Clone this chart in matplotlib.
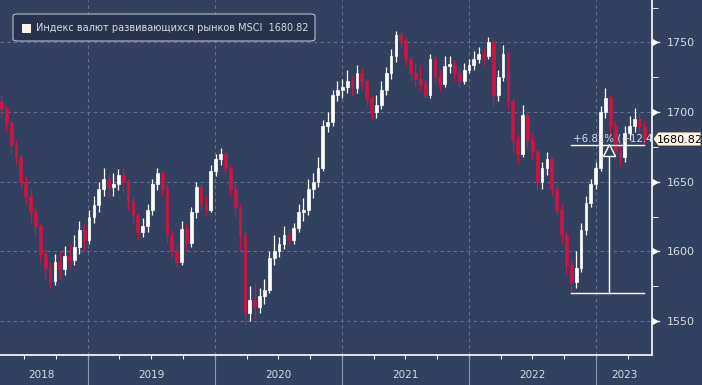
import numpy as np
import pandas as pd
import matplotlib
matplotlib.use("Agg")
import matplotlib.pyplot as plt
import matplotlib.dates as mdates
from matplotlib.patches import FancyBboxPatch, Polygon

# two-week candles
start = "2018-04-27"
closes = [1702, 1692, 1676, 1668, 1650, 1640, 1628, 1618, 1598, 1588,
          1579, 1592, 1587, 1597, 1594, 1603, 1615, 1608, 1625, 1633,
          1645, 1652, 1646, 1648, 1655, 1650, 1636, 1626, 1614, 1618,
          1630, 1648, 1656, 1645, 1612, 1600, 1592, 1616, 1606, 1628,
          1646, 1634, 1630, 1658, 1666, 1670, 1660, 1645, 1632, 1612,
          1556, 1565, 1560, 1568, 1572, 1595, 1600, 1605, 1612, 1608,
          1617, 1628, 1630, 1645, 1650, 1660, 1690, 1693, 1712, 1716,
          1718, 1722, 1717, 1728, 1722, 1710, 1700, 1705, 1716, 1728,
          1740, 1755, 1752, 1738, 1728, 1724, 1720, 1712, 1738, 1725,
          1720, 1733, 1734, 1728, 1722, 1730, 1734, 1738, 1742, 1740,
          1750, 1712, 1725, 1742, 1708, 1680, 1670, 1698, 1680, 1672,
          1650, 1660, 1666, 1645, 1630, 1612, 1590, 1578, 1588, 1615,
          1635, 1648, 1660, 1700, 1710, 1690, 1672, 1668, 1685, 1690,
          1695, 1690, 1680.82]
highs = [1712, 1705, 1694, 1680, 1670, 1654, 1645, 1632, 1620, 1602,
         1592, 1598, 1600, 1604, 1606, 1612, 1622, 1620, 1630, 1640,
         1650, 1660, 1656, 1656, 1659, 1660, 1652, 1640, 1628, 1624,
         1634, 1652, 1660, 1658, 1648, 1615, 1606, 1622, 1620, 1632,
         1650, 1648, 1640, 1662, 1670, 1674, 1672, 1662, 1648, 1634,
         1615, 1575, 1578, 1574, 1580, 1600, 1612, 1610, 1618, 1616,
         1620, 1634, 1638, 1652, 1656, 1668, 1694, 1700, 1716, 1722,
         1724, 1730, 1726, 1734, 1732, 1724, 1712, 1712, 1722, 1732,
         1745, 1758, 1758, 1754, 1740, 1735, 1734, 1724, 1742, 1740,
         1730, 1740, 1740, 1737, 1732, 1735, 1738, 1744, 1747, 1746,
         1754, 1752, 1730, 1748, 1744, 1710, 1684, 1705, 1700, 1686,
         1674, 1664, 1671, 1668, 1648, 1634, 1614, 1595, 1600, 1620,
         1640, 1652, 1664, 1704, 1717, 1712, 1694, 1676, 1690, 1697,
         1703, 1699, 1694]
lows = [1696, 1686, 1670, 1662, 1645, 1634, 1620, 1610, 1592, 1580,
        1574, 1576, 1580, 1583, 1588, 1590, 1598, 1600, 1605, 1620,
        1628, 1640, 1638, 1640, 1644, 1642, 1630, 1620, 1609, 1610,
        1614, 1626, 1644, 1640, 1606, 1596, 1588, 1590, 1600, 1603,
        1624, 1630, 1626, 1628, 1654, 1662, 1655, 1640, 1625, 1600,
        1547, 1550, 1552, 1556, 1562, 1570, 1590, 1596, 1602, 1603,
        1605, 1614, 1622, 1626, 1638, 1646, 1658, 1686, 1690, 1708,
        1710, 1714, 1712, 1714, 1716, 1704, 1694, 1696, 1702, 1712,
        1724, 1736, 1746, 1734, 1722, 1719, 1716, 1710, 1710, 1720,
        1715, 1718, 1728, 1722, 1718, 1720, 1728, 1730, 1735, 1734,
        1738, 1704, 1708, 1722, 1702, 1672, 1663, 1668, 1674, 1666,
        1644, 1645, 1655, 1640, 1626, 1606, 1584, 1570, 1574, 1585,
        1612, 1632, 1645, 1658, 1696, 1684, 1666, 1661, 1664, 1680,
        1686, 1684, 1676]
years = ["2018", "2019", "2020", "2021", "2022", "2023"]
legend_text = "Индекс валют развивающихся рынков MSCI  1680.82"
last_value = "1680.82"
change_text = "+6.82% (+12.4"

df = pd.DataFrame({"close": closes, "high": highs, "low": lows})
df["date"] = pd.date_range(start, periods=len(df), freq="14D")
df["open"] = df["close"].shift(1).fillna(1708)

bg = "#334160"
red = "#cc1542"
grid = "#63708f"
txt = "#d6dae3"

def dn(s):
    return mdates.datestr2num(s)

fig = plt.figure(figsize=(7.02, 3.85), dpi=100)
fig.patch.set_facecolor(bg)
W, H = 702, 385
ax = fig.add_axes([0, 30 / H, 652 / W, 355 / H])
ax.set_facecolor(bg)

x = mdates.date2num(df["date"].dt.to_pydatetime())
up = (df["close"] >= df["open"]).values
o = df["open"].values
c = df["close"].values
for is_up, col in [(True, "white"), (False, red)]:
    m = up == is_up
    lo = np.minimum(o[m], c[m])
    hi = np.maximum(o[m], c[m])
    ax.vlines(x[m], df["low"].values[m], df["high"].values[m], color=col, lw=0.9, zorder=3)
    ax.bar(x[m], np.maximum(hi - lo, 1.2), bottom=lo, width=8,
           color=col, edgecolor=col, lw=0.5, zorder=4)

for v in [1550, 1600, 1650, 1700, 1750]:
    ax.axhline(v, color=grid, lw=0.8, ls=(0, (3, 3)), zorder=1)
bounds = [dn(f"{y}-01-01") for y in years[1:]]
for b in bounds:
    ax.axvline(b, color=grid, lw=0.8, ls=(0, (3, 3)), zorder=1)

for s in ["top", "left"]:
    ax.spines[s].set_visible(False)
ax.spines["right"].set_color("white")
ax.spines["bottom"].set_color("white")
ax.spines["right"].set_linewidth(1.2)
ax.spines["bottom"].set_linewidth(1.2)

# right axis
ax.yaxis.tick_right()
ax.set_yticks([1550, 1600, 1650, 1700, 1750])
ax.set_yticks([1575, 1625, 1675, 1725, 1775], minor=True)
ax.tick_params(axis="y", which="major", length=0, pad=11, labelsize=8, labelcolor=txt)
ax.tick_params(axis="y", which="minor", length=4, color="white", direction="out")
for v in [1550, 1600, 1650, 1700, 1750]:
    ax.plot([1.008], [v], marker=5, ms=5, color="white", transform=ax.get_yaxis_transform(),
            clip_on=False, zorder=6)
    ax.plot([1.0, 1.01], [v, v], color="white", lw=1, transform=ax.get_yaxis_transform(),
            clip_on=False, zorder=6)

# bottom axis: quarter ticks, year labels
quarters = [dn(f"{y}-{mo:02d}-01") for y in range(2018, 2024) for mo in (1, 4, 7, 10)]
ax.set_xticks(quarters)
ax.set_xticklabels([])
ax.tick_params(axis="x", length=3, color="white", direction="out")
centers = [dn(d) for d in
           ["2018-08-20", "2019-07-02", "2020-07-02", "2021-07-02", "2022-07-02", "2023-03-22"]]
for cx, y in zip(centers, years):
    ax.text(cx, -0.055, y, transform=ax.get_xaxis_transform(), ha="center", va="center",
            fontsize=7.5, color=txt)
for b in bounds:
    ax.plot([b, b], [0, -30 / 355], color="#8d97ad", lw=0.8,
            transform=ax.get_xaxis_transform(), clip_on=False)

# change annotation
d_low = x[117]
d_end = x[132]
d_mid = dn("2023-02-06")
ax.plot([d_low, d_end], [1570, 1570], color="white", lw=1, zorder=5)
ax.plot([d_low, d_end], [1676, 1676], color="white", lw=1, zorder=5)
ax.plot([d_mid, d_mid], [1570, 1669], color="white", lw=1, zorder=5)
ax.plot([d_mid], [1672.5], marker="^", ms=8, mfc=bg, mec="white", mew=1, zorder=6)
ax.text(dn("2022-10-27"), 1677.5, change_text, fontsize=7.4, color=txt,
        ha="left", va="bottom", zorder=6, clip_on=True)

ax.set_ylim(1525.6, 1780.4)
ax.set_xlim(dn("2018-04-23"), dn("2023-06-10"))

# last value tag
def fx(p):
    return p / W

def fy(p):
    return 1 - p / H

tag = Polygon([(fx(653), fy(139)), (fx(658), fy(132)), (fx(701), fy(132)),
               (fx(701), fy(146)), (fx(658), fy(146))], closed=True,
              transform=fig.transFigure, facecolor="#fff4e4", edgecolor="#333333", lw=0.6)
fig.patches.append(tag)
fig.text(fx(680), fy(139.5), last_value, ha="center", va="center", fontsize=8, color="black")

# legend box
box = FancyBboxPatch((fx(13), fy(41)), fx(302), 27 / H, boxstyle="round,pad=0,rounding_size=0.006",
                     transform=fig.transFigure, facecolor="#27324d", edgecolor="#b8bfcc", lw=0.8)
fig.patches.append(box)
sq = FancyBboxPatch((fx(22), fy(33)), fx(9), 9 / H, boxstyle="square,pad=0",
                    transform=fig.transFigure, facecolor="#fdf2ee", edgecolor="none")
fig.patches.append(sq)
fig.text(fx(36), fy(28), legend_text, ha="left", va="center", fontsize=7.0, color=txt)

fig.savefig("out.png", dpi=100, facecolor=bg)
